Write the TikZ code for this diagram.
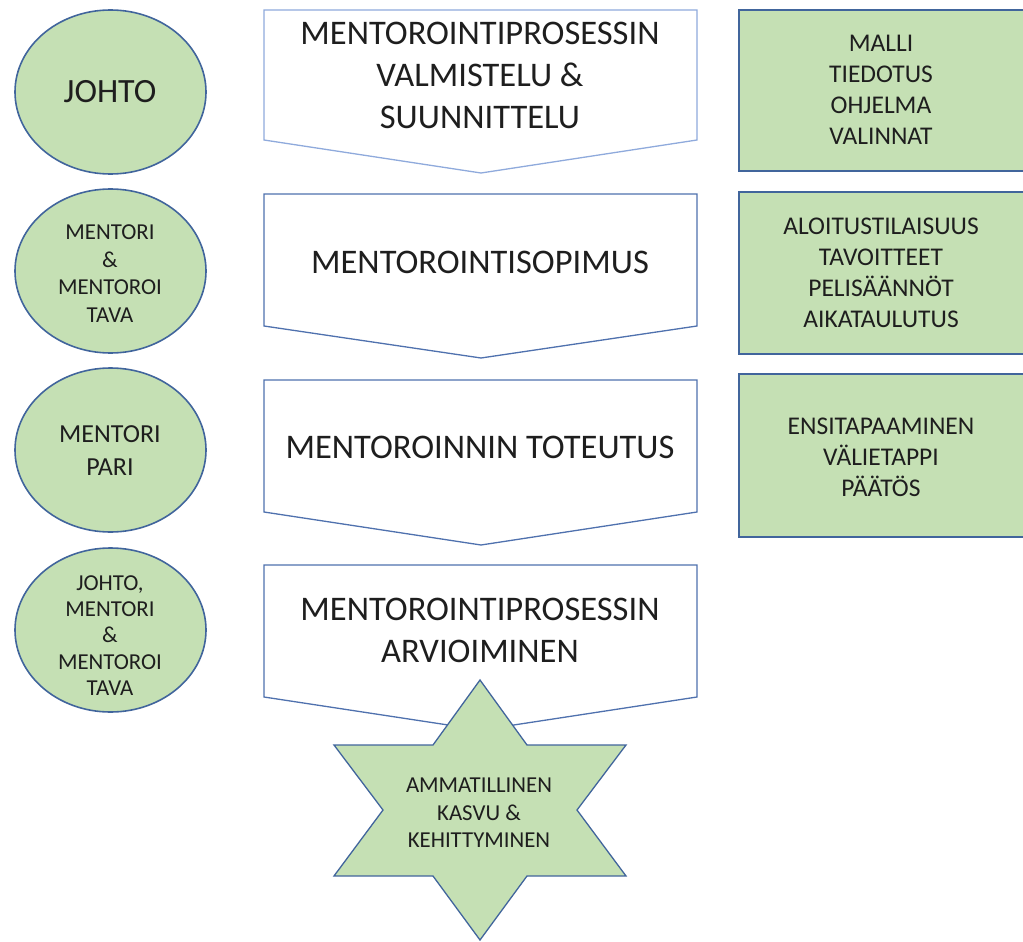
\documentclass[tikz,border=0pt]{standalone}
\usepackage{fontspec}
\setmainfont{Carlito}
\usetikzlibrary{shapes.geometric}
\definecolor{lgreen}{HTML}{C5E0B4}
\definecolor{edgeblue}{HTML}{41659C}
\definecolor{arrowlight}{HTML}{8FAADC}
\definecolor{arrowdark}{HTML}{4F71AE}
\definecolor{txt}{HTML}{1E1E1E}
\tikzset{
  person/.style={ellipse, draw=edgeblue, line width=1.6pt, fill=lgreen,
    minimum width=191pt, minimum height=164pt, inner sep=0pt},
  chev/.style={draw=arrowdark, line width=1.3pt, fill=white, line join=miter},
  infobox/.style={draw=edgeblue, line width=1.6pt, fill=lgreen},
  bigtext/.style={text=txt, align=center, inner sep=0pt,
    font=\fontsize{34.5}{42}\selectfont},
  boxtext/.style={text=txt, align=center, inner sep=0pt,
    font=\fontsize{25.5}{31}\selectfont},
  smalltext/.style={text=txt, align=center, inner sep=0pt,
    font=\fontsize{22.8}{27.5}\selectfont},
}
\begin{document}
\begin{tikzpicture}[x=1pt,y=-1pt]
\useasboundingbox (0,0) rectangle (1023,942);

% left ellipses
\node[person] (e1) at (110.5,92) {};
\node[text=txt, font=\fontsize{34}{40}\selectfont] (t1) at (110,92) {JOHTO};
\node[person] (e2) at (110.5,271) {};
\node[smalltext] (t2) at (110,273.5) {MENTORI\\\&\\MENTOROI\\TAVA};
\node[person] (e3) at (110.5,450) {};
\node[text=txt, align=center, inner sep=0pt, font=\fontsize{26}{33}\selectfont] (t3) at (110,451) {MENTORI\\PARI};
\node[person] (e4) at (110.5,630) {};
\node[smalltext, font=\fontsize{22.8}{26.3}\selectfont] (t4) at (110,635.5) {JOHTO,\\MENTORI\\\&\\MENTOROI\\TAVA};

% chevrons
\draw[chev, draw=arrowlight] (264,10) -- (697,10) -- (697,140) -- (481,173) -- (264,140) -- cycle;
\node[bigtext] (a1) at (480,75) {MENTOROINTIPROSESSIN\\VALMISTELU \&\\SUUNNITTELU};
\draw[chev] (264,194) -- (697,194) -- (697,326) -- (481,358) -- (264,326) -- cycle;
\node[bigtext] (a2) at (480,262) {MENTOROINTISOPIMUS};
\draw[chev] (264,380) -- (697,380) -- (697,512) -- (481,545) -- (264,512) -- cycle;
\node[bigtext] (a3) at (480,447) {MENTOROINNIN TOTEUTUS};
\draw[chev] (264,565) -- (697,565) -- (697,697) -- (481,730) -- (264,697) -- cycle;
\node[bigtext] (a4) at (480,630) {MENTOROINTIPROSESSIN\\ARVIOIMINEN};

% right boxes
\draw[infobox] (739,10) rectangle (1025,171);
\node[boxtext] (b1) at (881,90) {MALLI\\TIEDOTUS\\OHJELMA\\VALINNAT};
\draw[infobox] (739,192) rectangle (1025,354);
\node[boxtext] (b2) at (881,273) {ALOITUSTILAISUUS\\TAVOITTEET\\PELISÄÄNNÖT\\AIKATAULUTUS};
\draw[infobox] (739,374) rectangle (1025,537);
\node[boxtext] (b3) at (881,457) {ENSITAPAAMINEN\\VÄLIETAPPI\\PÄÄTÖS};

% star
\draw[draw=edgeblue, line width=1.3pt, fill=lgreen, line join=miter]
  (480,680) -- (527,745) -- (626,745) -- (577,810) -- (626,876) -- (527,876)
  -- (480,940) -- (433,876) -- (334,876) -- (383,810) -- (334,745) -- (433,745) -- cycle;
\node[smalltext] (s) at (479,813) {AMMATILLINEN\\KASVU \&\\KEHITTYMINEN};
\end{tikzpicture}
\end{document}
